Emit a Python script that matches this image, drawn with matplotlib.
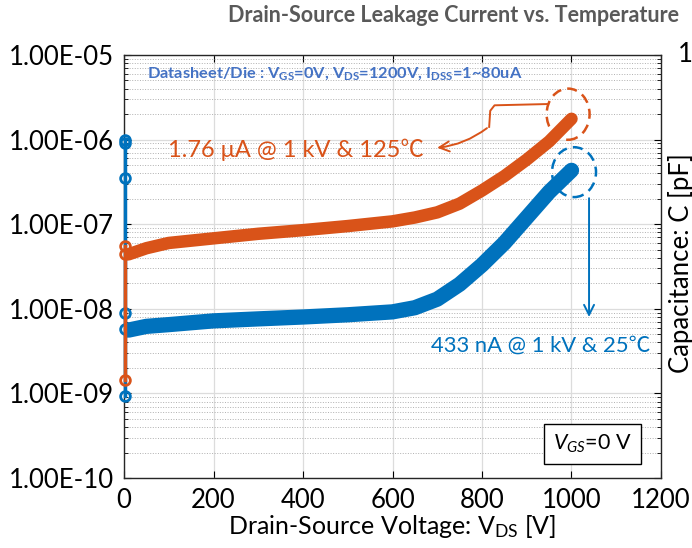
import numpy as np
import matplotlib
matplotlib.use('Agg')
import matplotlib.pyplot as plt
from matplotlib.patches import Ellipse
from matplotlib.ticker import FixedLocator, FuncFormatter, LogLocator, NullFormatter

plt.rcParams['font.family'] = ['Lato', 'DejaVu Sans']
plt.rcParams['mathtext.fontset'] = 'custom'
plt.rcParams['mathtext.rm'] = 'Lato'
plt.rcParams['mathtext.it'] = 'Lato:italic'
plt.rcParams['mathtext.bf'] = 'Lato:bold'

# sweep data (V_DS in V, I_DSS in A)
v_sweep = [10, 50, 100, 200, 300, 400, 500, 600, 650, 700, 750, 800, 850, 900, 950, 1000]
i_125c = [4.4e-8, 5.2e-8, 6.0e-8, 6.8e-8, 7.7e-8, 8.5e-8, 9.5e-8, 1.08e-7, 1.2e-7,
          1.38e-7, 1.75e-7, 2.5e-7, 3.7e-7, 5.8e-7, 9.5e-7, 1.76e-6]
i_25c = [5.6e-9, 6.2e-9, 6.5e-9, 7.2e-9, 7.6e-9, 8.0e-9, 8.5e-9, 9.2e-9, 1.03e-8,
         1.3e-8, 1.95e-8, 3.3e-8, 6.0e-8, 1.2e-7, 2.4e-7, 4.33e-7]

# first points of each sweep (near 0 V)
v_start_125c = [3, 3, 3]
i_start_125c = [1.46e-9, 4.5e-8, 5.5e-8]
v_start_25c = [3, 3, 3, 3, 3, 3]
i_start_25c = [9.3e-10, 5.8e-9, 9e-9, 3.5e-7, 9e-7, 1e-6]

blue = '#0072BD'
orange = '#D95319'

fig = plt.figure(figsize=(6.92, 5.48), dpi=100)
ax = fig.add_axes([0.1792, 0.1277, 0.776, 0.772])

ax.plot(v_sweep, i_25c, color=blue, lw=11, solid_capstyle='round', solid_joinstyle='round', zorder=3)
ax.plot(v_start_25c, i_start_25c, color=blue, lw=2.5, marker='o', mfc='none', mew=2, ms=7,
        zorder=4, clip_on=False)
ax.plot(v_sweep, i_125c, color=orange, lw=9, solid_capstyle='round', solid_joinstyle='round', zorder=5)
ax.plot(v_start_125c, i_start_125c, color=orange, lw=2.5, marker='o', mfc='none', mew=2, ms=7,
        zorder=6, clip_on=False)

ax.set_yscale('log')
ax.set_xlim(0, 1200)
ax.set_ylim(1e-10, 1e-5)
ax.set_xticks([0, 200, 400, 600, 800, 1000, 1200])
ax.yaxis.set_major_locator(FixedLocator([1e-10, 1e-9, 1e-8, 1e-7, 1e-6, 1e-5]))
ax.yaxis.set_minor_locator(LogLocator(base=10, subs=np.arange(2, 10), numticks=20))
ax.yaxis.set_minor_formatter(NullFormatter())
ax.yaxis.set_major_formatter(FuncFormatter(lambda y, p: '%.2fE%03d' % (1.0, int(round(np.log10(y))))))
ax.tick_params(which='both', direction='in', top=True, right=True, labelsize=18.5, pad=7)
ax.tick_params(which='major', length=5, width=0.8)
ax.tick_params(which='minor', length=3, width=0.6)
ax.grid(True, which='major', color='#dcdcdc', lw=0.9)
ax.grid(True, which='minor', axis='y', color='#b0b0b0', ls=':', lw=0.7)
ax.set_axisbelow(True)
for s in ax.spines.values():
    s.set_color('#262626')
    s.set_linewidth(1.0)

ax.set_xlabel('Drain-Source Voltage: V$_{\\mathrm{DS}}$ [V]', fontsize=18, labelpad=0)

fig.text(0.655, 0.972, 'Drain-Source Leakage Current vs. Temperature', ha='center', va='center',
         fontsize=15.5, fontweight='bold', color='#595959')

ax.text(0.043, 0.955, 'Datasheet/Die : V$_{\\mathbf{GS}}$=0V, V$_{\\mathbf{DS}}$=1200V, I$_{\\mathbf{DSS}}$=1~80uA',
        transform=ax.transAxes, ha='left', va='center', fontsize=11.8, fontweight='bold', color='#4472C4')

ax.text(0.082, 0.775, '1.76 μA @ 1 kV & 125℃', transform=ax.transAxes, ha='left', va='center',
        fontsize=17, color=orange, family=['Lato', 'Noto Sans CJK SC', 'DejaVu Sans'])
ax.text(0.572, 0.314, '433 nA @ 1 kV & 25℃', transform=ax.transAxes, ha='left', va='center',
        fontsize=15.8, color=blue, family=['Lato', 'Noto Sans CJK SC', 'DejaVu Sans'])

ax.add_patch(Ellipse((0.827, 0.860), 0.080, 0.121, transform=ax.transAxes, fill=False,
                     ec=orange, lw=1.8, ls=(0, (4, 2.5)), zorder=7))
ax.add_patch(Ellipse((0.838, 0.723), 0.082, 0.118, transform=ax.transAxes, fill=False,
                     ec=blue, lw=1.8, ls=(0, (4, 2.5)), zorder=7))

# orange callout connector
ax.plot([0.789, 0.690, 0.682, 0.680], [0.884, 0.881, 0.868, 0.830], color=orange, lw=1.4,
        transform=ax.transAxes, zorder=7)
ax.annotate('', xy=(0.578, 0.780), xytext=(0.680, 0.831), xycoords='axes fraction',
            arrowprops=dict(arrowstyle='->', color=orange, lw=1.4, mutation_scale=18,
                            connectionstyle='arc3,rad=-0.15'), zorder=7)
# blue callout arrow
ax.annotate('', xy=(0.866, 0.374), xytext=(0.866, 0.668), xycoords='axes fraction',
            arrowprops=dict(arrowstyle='->', color=blue, lw=1.4, mutation_scale=18), zorder=7)

ax.text(0.872, 0.080, '$V_{GS}$=0 V', transform=ax.transAxes, ha='center', va='center', fontsize=15.5,
        bbox=dict(boxstyle='square,pad=0.42', fc='white', ec='black', lw=1.0))

# clipped neighbour panel / y label fragments
fig.text(0.980, 0.9, '10', ha='left', va='center', fontsize=18.5)
fig.text(0.966, 0.72, 'Capacitance: C [pF]', rotation=90, ha='left', va='top', fontsize=18.5)
fig.text(-0.035, 0.50, 'Current: I$_{\\mathrm{DSS}}$ [A]', rotation=90, ha='left', va='center', fontsize=18)

fig.savefig('out.png', dpi=100)
